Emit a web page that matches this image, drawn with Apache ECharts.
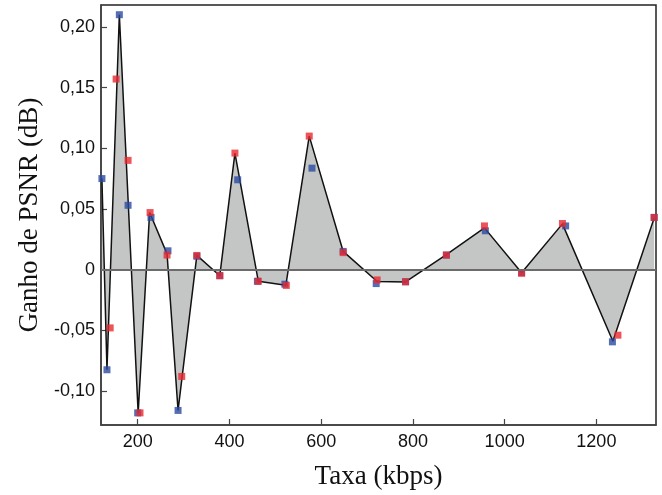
<!DOCTYPE html>
<html>
<head>
<meta charset="utf-8">
<script src="https://cdn.jsdelivr.net/npm/echarts@6/dist/echarts.min.js"></script>
<style>
html,body{margin:0;padding:0;background:#fff;}
#chart{width:662px;height:495px;}
</style>
</head>
<body>
<div id="chart"></div>
<script>
// Black curve (with gray fill to zero)
const lineRate = [122, 133, 160, 201, 226, 264, 288, 329, 379, 412, 463, 523, 574, 648, 722, 784, 873, 956, 1037, 1126, 1236, 1326];
const lineGain = [0.075, -0.0825, 0.210, -0.118, 0.047, 0.013, -0.116, 0.0117, -0.005, 0.096, -0.0096, -0.0128, 0.110, 0.015, -0.0098, -0.0101, 0.0123, 0.0344, -0.0025, 0.0377, -0.059, 0.0426];

// Blue markers
const blueRate = [122, 133, 160, 179, 200, 229, 266, 288, 329, 379, 418, 461, 521, 580, 648, 720, 784, 873, 958, 1037, 1133, 1235, 1326];
const blueGain = [0.075, -0.0825, 0.210, 0.053, -0.118, 0.043, 0.0155, -0.116, 0.011, -0.005, 0.074, -0.0096, -0.012, 0.0836, 0.015, -0.0115, -0.010, 0.012, 0.032, -0.0025, 0.036, -0.0595, 0.043];

// Red markers
const redRate = [140, 153, 179, 205, 227, 264, 296, 329, 379, 412, 463, 524, 574, 648, 722, 784, 873, 956, 1037, 1126, 1247, 1326];
const redGain = [-0.048, 0.157, 0.090, -0.118, 0.047, 0.012, -0.088, 0.0117, -0.005, 0.096, -0.0096, -0.013, 0.110, 0.014, -0.0085, -0.010, 0.012, 0.036, -0.003, 0.038, -0.054, 0.043];

const xTicks = [200, 400, 600, 800, 1000, 1200];
const yTicks = [-0.10, -0.05, 0, 0.05, 0.10, 0.15, 0.20];

const zip = (a, b) => a.map((v, i) => [v, b[i]]);
const fmtY = v => (Math.abs(v) < 1e-9 ? '0' : v.toFixed(2).replace('.', ','));
const fmtX = v => String(Math.round(v));

const chart = echarts.init(document.getElementById('chart'), null, {renderer: 'canvas'});
chart.setOption({
  animation: false,
  backgroundColor: '#ffffff',
  grid: {left: 101, right: 6, top: 5, bottom: 68, show: true, borderColor: '#222', borderWidth: 1.5, backgroundColor: 'transparent'},
  xAxis: {
    type: 'value', min: 120, max: 1330,
    name: 'Taxa (kbps)', nameLocation: 'middle', nameGap: 38,
    nameTextStyle: {fontFamily: 'Liberation Serif', fontSize: 27, color: '#111'},
    splitLine: {show: false},
    axisLine: {show: true, onZero: false, lineStyle: {color: '#444', width: 1.5}},
    axisTick: {show: true, inside: true, length: 6, lineStyle: {color: '#444', width: 1.2}, customValues: xTicks},
    axisLabel: {fontFamily: 'Liberation Sans', fontSize: 18, color: '#111', margin: 8, customValues: xTicks, formatter: fmtX}
  },
  yAxis: {
    type: 'value', min: -0.128, max: 0.218,
    name: 'Ganho de PSNR (dB)', nameLocation: 'middle', nameGap: 58, nameRotate: 90,
    nameTextStyle: {fontFamily: 'Liberation Serif', fontSize: 27, color: '#111'},
    splitLine: {show: false},
    axisLine: {show: true, lineStyle: {color: '#444', width: 1.5}},
    axisTick: {show: true, inside: true, length: 6, lineStyle: {color: '#444', width: 1.2}, customValues: yTicks},
    axisLabel: {fontFamily: 'Liberation Sans', fontSize: 18, color: '#111', margin: 6, customValues: yTicks, formatter: fmtY}
  },
  series: [
    {
      type: 'line', data: zip(lineRate, lineGain), showSymbol: false, symbol: 'none',
      lineStyle: {color: '#111', width: 1.5},
      areaStyle: {color: '#C4C6C6', opacity: 1, origin: 0},
      z: 2,
      markLine: {
        silent: true, symbol: ['none', 'none'], label: {show: false},
        lineStyle: {color: '#6b6b6b', width: 2, type: 'solid'},
        data: [{yAxis: 0}]
      }
    },
    {
      type: 'scatter', data: zip(blueRate, blueGain), symbol: 'rect', symbolSize: 7,
      itemStyle: {color: '#2A4AA0'}, z: 3
    },
    {
      type: 'scatter', data: zip(redRate, redGain), symbol: 'rect', symbolSize: 7,
      itemStyle: {color: '#E8292F'}, z: 4
    }
  ]
});
</script>
</body>
</html>
